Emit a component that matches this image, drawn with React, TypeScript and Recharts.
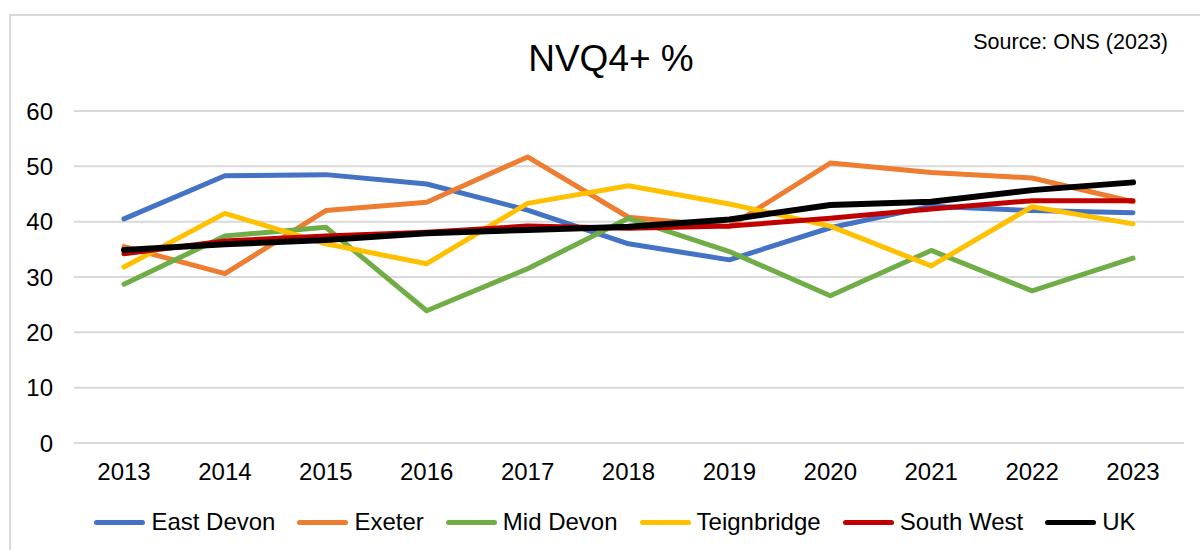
import { LineChart, Line, XAxis, YAxis, CartesianGrid } from "recharts";

// --- data ---
const years = ["2013", "2014", "2015", "2016", "2017", "2018", "2019", "2020", "2021", "2022", "2023"];
const eastDevon = [40.5, 48.3, 48.5, 46.8, 42.1, 36.0, 33.1, 38.9, 42.8, 42.0, 41.6];
const exeter = [35.5, 30.6, 42.0, 43.5, 51.7, 40.8, 39.1, 50.6, 48.9, 47.9, 43.6];
const midDevon = [28.7, 37.4, 39.0, 23.9, 31.5, 40.6, 34.6, 26.6, 34.8, 27.5, 33.4];
const teignbridge = [31.8, 41.5, 36.0, 32.4, 43.3, 46.5, 43.2, 39.2, 32.0, 42.7, 39.6];
const southWest = [34.2, 36.5, 37.4, 38.1, 39.2, 38.8, 39.2, 40.6, 42.3, 43.8, 43.8];
const uk = [34.9, 35.9, 36.7, 37.9, 38.5, 39.1, 40.4, 43.0, 43.6, 45.7, 47.1];
const yTicks = [0, 10, 20, 30, 40, 50, 60];

const series = [
  { key: "East Devon", values: eastDevon, color: "#4472C4", width: 5 },
  { key: "Exeter", values: exeter, color: "#ED7D31", width: 5 },
  { key: "Mid Devon", values: midDevon, color: "#70AD47", width: 5 },
  { key: "Teignbridge", values: teignbridge, color: "#FFC000", width: 5 },
  { key: "South West", values: southWest, color: "#C00000", width: 5 },
  { key: "UK", values: uk, color: "#000000", width: 6 },
];

const rows = years.map((year, i) => {
  const row: Record<string, string | number> = { year };
  series.forEach((s) => (row[s.key] = s.values[i]));
  return row;
});

const font = "'Liberation Sans', Arial, sans-serif";

export default function App() {
  return (
    <div style={{ position: "absolute", left: 0, top: 0, width: 1200, height: 550, background: "#fff", overflow: "hidden", fontFamily: font }}>
      {/* chart frame, cut off at right and bottom like the original */}
      <div style={{ position: "absolute", left: 9, top: 14, width: 1300, height: 700, border: "2px solid #d9d9d9", boxSizing: "border-box" }} />

      <div style={{ position: "absolute", left: 0, width: 1222, top: 40, textAlign: "center", fontSize: 37, lineHeight: 1, color: "#000" }}>
        NVQ4+ %
      </div>
      <div style={{ position: "absolute", right: 32, top: 32, fontSize: 21.5, lineHeight: 1, color: "#000" }}>
        Source: ONS (2023)
      </div>

      <div style={{ position: "absolute", left: 0, top: 0 }}>
        <LineChart width={1200} height={550} data={rows} margin={{ top: 111, right: 16, bottom: 77, left: 0 }}>
          <CartesianGrid vertical={false} stroke="#d9d9d9" strokeWidth={2} />
          <XAxis
            dataKey="year"
            height={30}
            axisLine={false}
            tickLine={false}
            tickSize={0}
            tickMargin={20}
            padding={{ left: 50, right: 51 }}
            tick={{ fontSize: 24, fill: "#000", fontFamily: font }}
          />
          <YAxis
            width={74}
            domain={[0, 60]}
            ticks={yTicks}
            axisLine={false}
            tickLine={false}
            tickSize={0}
            tickMargin={21}
            tick={{ fontSize: 24, fill: "#000", fontFamily: font }}
          />
          {series.map((s) => (
            <Line
              key={s.key}
              type="linear"
              dataKey={s.key}
              stroke={s.color}
              strokeWidth={s.width}
              strokeLinejoin="round"
              strokeLinecap="round"
              dot={false}
              activeDot={false}
              isAnimationActive={false}
            />
          ))}
        </LineChart>
      </div>

      {/* legend */}
      <div style={{ position: "absolute", left: 0, width: 1252, top: 508, display: "flex", justifyContent: "center", fontSize: 24, lineHeight: "28px", color: "#000" }}>
        {series.map((s) => (
          <div key={s.key} style={{ display: "flex", alignItems: "center", marginRight: 22 }}>
            <span style={{ display: "inline-block", width: 51, height: 5, borderRadius: 3, background: s.color, marginRight: 6 }} />
            <span>{s.key}</span>
          </div>
        ))}
      </div>
    </div>
  );
}
